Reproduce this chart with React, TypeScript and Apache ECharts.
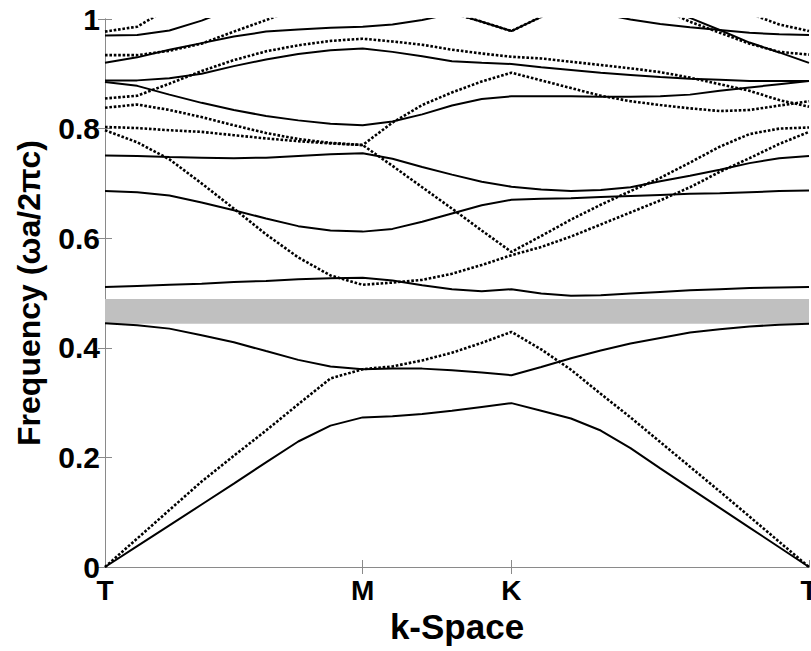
import React, { useEffect, useRef } from 'react';
import * as echarts from 'echarts';

// High-symmetry points along the path (units of 2π/a) and their labels
const kPoints = [0, 0.5774, 0.9107, 1.5774];
const kLabels = ['T', 'M', 'K', 'T'];

// k samples: Γ→M (8 steps), M→K (5 steps), K→Γ (10 steps)
const kGrid = [
  0, 0.0722, 0.1443, 0.2165, 0.2887, 0.3608, 0.433, 0.5052, 0.5774,
  0.6441, 0.7107, 0.7774, 0.8441, 0.9107,
  0.9774, 1.0441, 1.1107, 1.1774, 1.2441, 1.3107, 1.3774, 1.4441, 1.5107, 1.5774,
];

const yTicks = [0, 0.2, 0.4, 0.6, 0.8, 1];

// photonic band gap
const gapBottom = 0.444;
const gapTop = 0.489;

// solid bands
const band1 = [0, 0.038, 0.076, 0.114, 0.152, 0.191, 0.229, 0.258, 0.273, 0.275, 0.279, 0.285, 0.292, 0.299, 0.285, 0.271, 0.249, 0.217, 0.18, 0.144, 0.108, 0.072, 0.036, 0];
const band3 = [0.445, 0.441, 0.435, 0.423, 0.41, 0.394, 0.378, 0.366, 0.361, 0.362, 0.362, 0.359, 0.355, 0.35, 0.365, 0.381, 0.395, 0.408, 0.418, 0.428, 0.434, 0.439, 0.442, 0.444];
const band4 = [0.511, 0.513, 0.515, 0.517, 0.52, 0.522, 0.525, 0.527, 0.528, 0.523, 0.514, 0.507, 0.503, 0.507, 0.499, 0.495, 0.496, 0.499, 0.502, 0.505, 0.507, 0.509, 0.51, 0.511];
const band7 = [0.686, 0.684, 0.678, 0.665, 0.651, 0.636, 0.622, 0.614, 0.612, 0.617, 0.63, 0.645, 0.66, 0.67, 0.672, 0.673, 0.675, 0.677, 0.679, 0.681, 0.682, 0.684, 0.686, 0.687];
const band8 = [0.751, 0.75, 0.748, 0.747, 0.746, 0.747, 0.75, 0.753, 0.755, 0.745, 0.73, 0.716, 0.703, 0.694, 0.689, 0.686, 0.688, 0.693, 0.704, 0.714, 0.725, 0.737, 0.746, 0.75];
const band9 = [0.885, 0.878, 0.862, 0.847, 0.834, 0.823, 0.815, 0.809, 0.806, 0.813, 0.826, 0.842, 0.854, 0.859, 0.859, 0.859, 0.858, 0.858, 0.859, 0.862, 0.869, 0.875, 0.881, 0.887];
const band10 = [0.888, 0.888, 0.892, 0.9, 0.914, 0.926, 0.936, 0.943, 0.946, 0.94, 0.932, 0.923, 0.92, 0.918, 0.912, 0.907, 0.902, 0.898, 0.894, 0.891, 0.889, 0.887, 0.887, 0.887];
const band11 = [0.92, 0.93, 0.944, 0.956, 0.968, 0.977, 0.981, 0.984, 0.986, 0.99, 0.998, 1.01, 1.03, 1.05, 1.06, 1.07, 1.06, 1.045, 1.025, 1.002, 0.98, 0.957, 0.939, 0.92];
const band12 = [0.97, 0.971, 0.979, 0.997, 1.02, 1.04, 1.055, 1.06, 1.065, 1.05, 1.03, 1.011, 0.995, 0.978, 1.004, 1.015, 1.01, 0.999, 0.991, 0.985, 0.98, 0.975, 0.972, 0.971];

// dotted bands
const dband2 = [0, 0.052, 0.104, 0.156, 0.203, 0.249, 0.297, 0.344, 0.361, 0.366, 0.377, 0.391, 0.409, 0.429, 0.397, 0.36, 0.316, 0.273, 0.228, 0.183, 0.138, 0.092, 0.046, 0];
const dband5 = [0.797, 0.775, 0.744, 0.7, 0.654, 0.607, 0.565, 0.532, 0.515, 0.519, 0.524, 0.535, 0.551, 0.569, 0.584, 0.603, 0.625, 0.647, 0.669, 0.693, 0.721, 0.746, 0.772, 0.794];
const dband6 = [0.803, 0.801, 0.797, 0.794, 0.788, 0.782, 0.777, 0.773, 0.77, 0.732, 0.693, 0.654, 0.614, 0.575, 0.604, 0.634, 0.661, 0.686, 0.71, 0.738, 0.767, 0.79, 0.8, 0.802];
const dband7 = [0.838, 0.844, 0.834, 0.821, 0.806, 0.792, 0.781, 0.774, 0.77, 0.811, 0.843, 0.866, 0.886, 0.902, 0.888, 0.874, 0.86, 0.85, 0.843, 0.837, 0.832, 0.834, 0.842, 0.85];
const dband8 = [0.855, 0.86, 0.882, 0.905, 0.925, 0.941, 0.952, 0.96, 0.964, 0.959, 0.953, 0.944, 0.937, 0.931, 0.928, 0.922, 0.916, 0.91, 0.903, 0.893, 0.881, 0.869, 0.852, 0.84];
const dband9 = [0.934, 0.934, 0.942, 0.955, 0.977, 0.998, 1.02, 1.04, 1.05, 1.04, 1.027, 1.011, 0.995, 0.978, 1.004, 1.025, 1.04, 1.04, 1.02, 0.995, 0.975, 0.955, 0.94, 0.935];
const dband10 = [0.977, 0.986, 1.02, 1.06, 1.1, 1.12, 1.13, 1.13, 1.13, 1.12, 1.11, 1.1, 1.09, 1.08, 1.08, 1.08, 1.08, 1.07, 1.06, 1.05, 1.04, 1.01, 0.99, 0.978];

const solidBands = [band1, band3, band4, band7, band8, band9, band10, band11, band12];
const dottedBands = [dband2, dband5, dband6, dband7, dband8, dband9, dband10];

const FONT = '"Liberation Sans", Arial, Helvetica, sans-serif';
const AXIS_COLOR = '#8a8a8a';

export default function App() {
  const ref = useRef<HTMLDivElement>(null);

  useEffect(() => {
    document.body.style.margin = '0';
    if (!ref.current) return;
    const chart = echarts.init(ref.current, undefined, { renderer: 'svg' });

    const toData = (b: number[]) => kGrid.map((k, i) => [k, b[i]]);
    const kLabel = (v: number) => {
      for (let i = 0; i < kPoints.length; i++) {
        if (Math.abs(kPoints[i] - v) < 1e-6) return kLabels[i];
      }
      return '';
    };

    const series: any[] = [];
    solidBands.forEach((b, idx) => {
      const s: any = {
        type: 'line',
        data: toData(b),
        symbol: 'none',
        showSymbol: false,
        silent: true,
        clip: true,
        z: 3,
        lineStyle: { color: '#000', width: 2 },
      };
      if (idx === 0) {
        s.markArea = {
          silent: true,
          itemStyle: { color: '#c0c0c0' },
          data: [[{ yAxis: gapBottom }, { yAxis: gapTop }]],
        };
      }
      series.push(s);
    });
    dottedBands.forEach((b) => {
      series.push({
        type: 'line',
        data: toData(b),
        symbol: 'none',
        showSymbol: false,
        silent: true,
        clip: true,
        z: 4,
        lineStyle: { color: '#000', width: 2.6, type: [2.6, 1.8] },
      });
    });

    chart.setOption({
      animation: false,
      backgroundColor: '#fff',
      grid: { left: 105, right: 2, top: 19, bottom: 84, containLabel: false, outerBoundsMode: 'none' },
      xAxis: [
        {
          type: 'value',
          min: 0,
          max: kPoints[3],
          position: 'bottom',
          axisLine: { show: true, lineStyle: { color: AXIS_COLOR, width: 1 } },
          axisTick: { show: true, inside: true, length: 7, customValues: kPoints, lineStyle: { color: AXIS_COLOR } },
          axisLabel: {
            customValues: kPoints,
            formatter: (v: number) => kLabel(v),
            fontSize: 28,
            fontWeight: 'bold',
            fontFamily: FONT,
            color: '#000',
            margin: 9,
          },
          splitLine: { show: false },
          name: 'k-Space',
          nameLocation: 'middle',
          nameGap: 38,
          nameTextStyle: { fontSize: 35, fontWeight: 'bold', fontFamily: FONT, color: '#000' },
        },
        {
          type: 'value',
          min: 0,
          max: kPoints[3],
          position: 'top',
          axisLine: { show: true, lineStyle: { color: AXIS_COLOR, width: 1 } },
          axisTick: { show: true, inside: true, length: 7, customValues: [kPoints[1], kPoints[2]], lineStyle: { color: AXIS_COLOR } },
          axisLabel: { show: false, customValues: [kPoints[1], kPoints[2]] },
          splitLine: { show: false },
        },
      ],
      yAxis: [
        {
          type: 'value',
          min: 0,
          max: 1,
          interval: 0.2,
          position: 'left',
          axisLine: { show: true, lineStyle: { color: AXIS_COLOR, width: 1 } },
          axisTick: { show: true, inside: true, length: 7, lineStyle: { color: AXIS_COLOR } },
          axisLabel: {
            formatter: (v: number) => {
              const t = yTicks.find((y) => Math.abs(y - v) < 1e-6);
              if (t === undefined) return '';
              return t === 0 ? '0' : t === 1 ? '1' : t.toFixed(1);
            },
            fontSize: 30,
            fontWeight: 'bold',
            fontFamily: FONT,
            color: '#000',
            margin: 5,
          },
          splitLine: { show: false },
          name: 'Frequency (ωa/2πc)',
          nameLocation: 'middle',
          nameRotate: 90,
          nameGap: 60,
          nameTextStyle: { fontSize: 32, fontWeight: 'bold', fontFamily: FONT, color: '#000' },
        },
        {
          type: 'value',
          min: 0,
          max: 1,
          interval: 0.2,
          position: 'right',
          axisLine: { show: true, lineStyle: { color: AXIS_COLOR, width: 1 } },
          axisTick: { show: true, inside: true, length: 7, lineStyle: { color: AXIS_COLOR } },
          axisLabel: { show: false },
          splitLine: { show: false },
        },
      ],
      series,
    });

    return () => chart.dispose();
  }, []);

  return (
    <div
      ref={ref}
      style={{ position: 'fixed', left: 0, top: 0, width: 811, height: 651 }}
    />
  );
}
